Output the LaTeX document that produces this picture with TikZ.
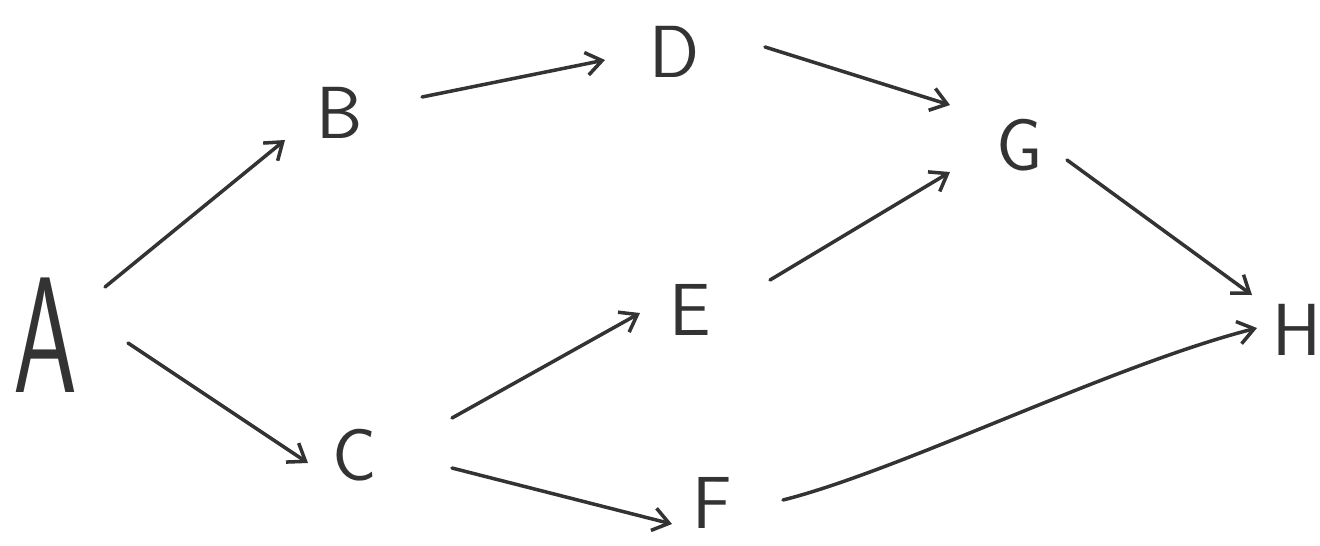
\documentclass[tikz,border=0pt]{standalone}
\usetikzlibrary{arrows.meta,calc}
\definecolor{ink}{HTML}{333333}
\begin{document}
\begin{tikzpicture}[x=0.02cm,y=-0.02cm,
  lbl/.style={inner sep=0pt,text=ink,font=\sffamily\fontsize{42}{42}\selectfont},
  big/.style={inner sep=0pt,text=ink,xscale=0.62,font=\sffamily\fontsize{94}{94}\selectfont},
  arr/.style={draw=ink,line width=2pt,line cap=round,line join=round,
    -{Straight Barb[length=9pt,width=13pt,line width=2pt]}}]
\useasboundingbox (0,0) rectangle (1320,545);
\node[big] (A) at (45,335) {A};
\node[lbl] (B) at (340,113) {B};
\node[lbl] (D) at (675,52) {D};
\node[lbl] (G) at (1020,145) {G};
\node[lbl] (E) at (690,310) {E};
\node[lbl] (C) at (355,455) {C};
\node[lbl] (F) at (712,503) {F};
\node[lbl] (H) at (1297,330) {H};
\draw[arr] ($(A)+(60,-48)$) -- ($(B)+(-55,27)$);
\draw[arr] ($(A)+(83,8)$) -- ($(C)+(-47,8)$);
\draw[arr] ($(B)+(82,-16)$) -- ($(D)+(-70,8)$);
\draw[arr] ($(D)+(90,-5)$) -- ($(G)+(-70,-40)$);
\draw[arr] ($(E)+(80,-30)$) -- ($(G)+(-70,27)$);
\draw[arr] ($(C)+(97,-37)$) -- ($(E)+(-50,3)$);
\draw[arr] ($(C)+(97,13)$) -- ($(F)+(-40,21)$);
\draw[arr] ($(G)+(47,15)$) -- ($(H)+(-45,-35)$);
\draw[arr] ($(F)+(71,-3)$) .. controls ($(F)+(190,-33)$) and ($(H)+(-185,35)$) .. ($(H)+(-40,-2)$);
\end{tikzpicture}
\end{document}
